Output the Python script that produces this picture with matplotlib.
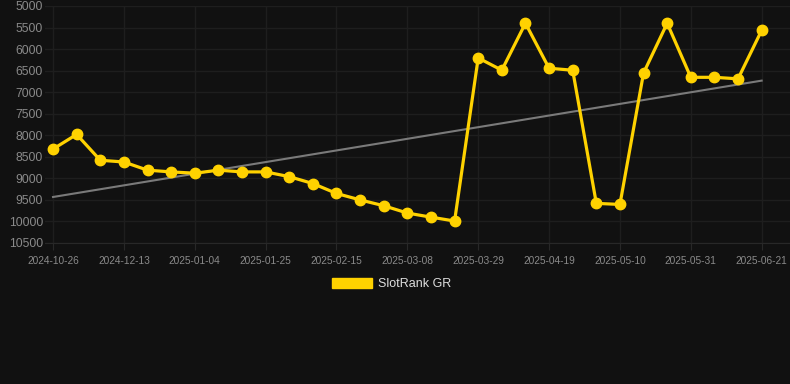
import matplotlib
matplotlib.use("Agg")
import matplotlib.pyplot as plt
import numpy as np
from matplotlib.patches import Patch

plt.rcParams['font.family'] = ['Liberation Sans', 'DejaVu Sans']

dates = ['2024-10-26', '2024-11-09', '2024-11-30', '2024-12-13', '2024-12-20', '2024-12-28',
         '2025-01-04', '2025-01-11', '2025-01-18', '2025-01-25', '2025-02-01', '2025-02-08',
         '2025-02-15', '2025-02-22', '2025-03-01', '2025-03-08', '2025-03-15', '2025-03-22',
         '2025-03-29', '2025-04-05', '2025-04-12', '2025-04-19', '2025-04-26', '2025-05-03',
         '2025-05-10', '2025-05-17', '2025-05-24', '2025-05-31', '2025-06-07', '2025-06-14',
         '2025-06-21']
rank = [8320, 7980, 8580, 8620, 8810, 8850, 8880, 8810, 8850, 8850, 8960, 9120,
        9350, 9500, 9635, 9805, 9900, 9990, 6205, 6490, 5400, 6445, 6490, 9580,
        9605, 6555, 5400, 6655, 6655, 6690, 5565]
y_ticks = [5000, 5500, 6000, 6500, 7000, 7500, 8000, 8500, 9000, 9500, 10000, 10500]
series_label = 'SlotRank GR'

BG = '#111111'
GOLD = '#ffd200'

fig = plt.figure(figsize=(7.9, 3.84), dpi=100, facecolor=BG)
ax = fig.add_axes([45 / 790, 1 - 243 / 384, 1 - 45 / 790, (243 - 6) / 384])
ax.set_facecolor(BG)

x = np.arange(len(rank))
# linear trend across the whole series
slope, icept = np.polyfit(x, rank, 1)
ax.plot(x[[0, -1]], icept + slope * x[[0, -1]], color='#7a7a7a', lw=1.5, zorder=2)
ax.plot(x, rank, color=GOLD, lw=2.3, marker='o', markersize=7.5, zorder=3)

ax.set_ylim(10500, 5000)
ax.set_yticks(y_ticks)
ax.set_xlim(-0.34, 31.2)
ax.set_xticks(x[::3])
ax.set_xticklabels(dates[::3])

ax.grid(True, color='#1e1e1e', lw=1)
ax.set_axisbelow(True)
for side in ['top', 'right', 'left']:
    ax.spines[side].set_visible(False)
ax.spines['bottom'].set_color('#282828')
ax.tick_params(axis='y', length=0, pad=1.5, labelsize=8.7, labelcolor='#8a8a8a')
ax.tick_params(axis='x', length=5, color='#282828', pad=4, labelsize=7.3, labelcolor='#8a8a8a')

fig.legend(handles=[Patch(facecolor=GOLD, edgecolor=GOLD)], labels=[series_label],
           loc='center', bbox_to_anchor=(392 / 790, 1 - 284 / 384), frameon=False,
           fontsize=9, labelcolor='#dddddd', handlelength=3.2, handleheight=0.9,
           handletextpad=0.5)

fig.savefig('out.png', facecolor=BG)
